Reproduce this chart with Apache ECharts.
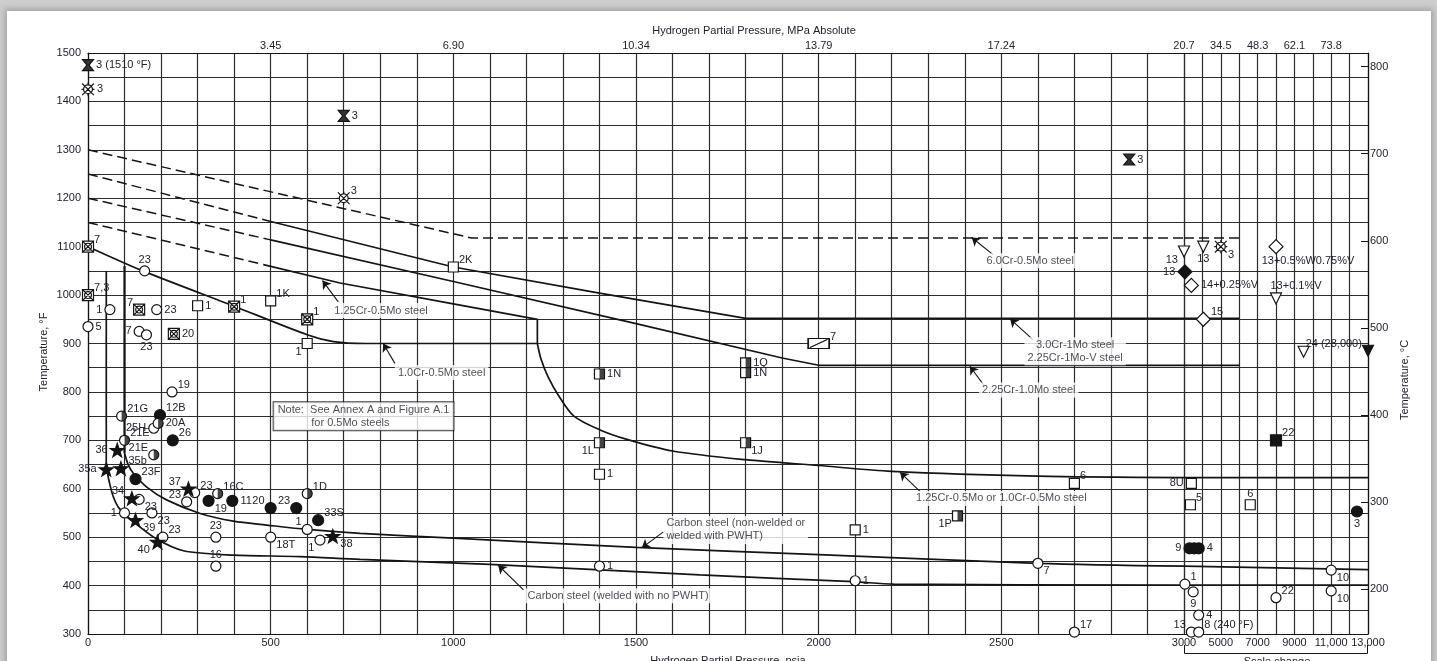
<!DOCTYPE html>
<html>
<head>
<meta charset="utf-8">
<title>Operating limits for steels in hydrogen service</title>
<script src="https://cdn.jsdelivr.net/npm/echarts@6/dist/echarts.min.js"></script>
<style>
  html, body { margin: 0; padding: 0; width: 1437px; height: 661px; overflow: hidden; background: #cdcdcd; }
  #sheet { position: absolute; left: 7px; top: 11px; width: 1424px; height: 660px; background: #fff;
           box-shadow: 0 0 6px 2px rgba(0, 0, 0, 0.22); }
  #chart { position: absolute; left: 0; top: 0; width: 1437px; height: 661px; }
</style>
</head>
<body>
<div id="sheet"></div>
<div id="chart"></div>
<script>
// ---------- axis ticks and labels ----------
const psiaLowLabels = [0, 500, 1000, 1500, 2000, 2500];
const psiaHighLabels = [3000, 5000, 7000, 9000, 11000, 13000];
const psiaHighText = ['3000', '5000', '7000', '9000', '11,000', '13,000'];
const mpaTickPsia = [500, 1000, 1500, 2000, 2500, 3000, 5000, 7000, 9000, 11000];
const mpaTickText = ['3.45', '6.90', '10.34', '13.79', '17.24', '20.7', '34.5', '48.3', '62.1', '73.8'];
const degFLabels = [300, 400, 500, 600, 700, 800, 900, 1000, 1100, 1200, 1300, 1400, 1500];
const degCLabels = [200, 300, 400, 500, 600, 700, 800];
const omittedGridF = [1100];

// ---------- limit curves: [psia, degF] ----------
const cr6Mo05 = [[0, 1300], [1050, 1118], [3000, 1118], [6000, 1118]];
const cr3Mo1Dashed = [[0, 1250], [500, 1152]];
const cr3Mo1 = [[500, 1152], [1000, 1058], [1400, 1004], [1800, 952], [3000, 952], [6000, 952]];
const cr225Mo1Dashed = [[0, 1200], [500, 1114]];
const cr225Mo1 = [[500, 1114], [1000, 1028], [1500, 941], [1900, 870], [2000, 855], [3000, 855], [6000, 855]];
const cr125Mo05Dashed = [[0, 1150], [480, 1063]];
const cr125Mo05 = [[480, 1063], [690, 1025], [1000, 982], [1230, 950], [1230, 900]];
const cr1Mo05 = [[0, 1100], [150, 1050], [400, 977], [600, 918], [672, 904], [760, 900], [1230, 900]];
const crMoShared = [[1230, 900], [1240, 868], [1260, 830], [1290, 790], [1330, 750], [1400, 722], [1475, 702],
                    [1600, 678], [1800, 660], [2000, 648], [2200, 636], [2600, 626], [3000, 623], [13000, 623]];
const csPwhtRise = [[100, 1060], [100, 674]];
const csPwht = [[100, 674], [110, 650], [124, 632], [160, 604], [215, 577], [307, 549], [398, 533], [489, 525],
                [600, 516], [745, 508], [1000, 498], [1500, 479], [2000, 464], [2600, 446], [3000, 440], [13000, 433]];
const csNoPwhtRise = [[50, 1050], [50, 646]];
const csNoPwht = [[50, 646], [58, 615], [69, 584], [85, 560], [124, 532], [188, 496], [261, 472], [398, 463],
                  [580, 460], [745, 454], [1100, 444], [1675, 422], [2095, 408], [2205, 403], [3000, 401], [13000, 401]];

// ---------- experience points: [psia, degF, note] ----------
const openCircles = [
  [0, 935, '5'], [60, 970, '1'], [188, 970, '23'], [155, 1050, '23'], [140, 925, '7'], [160, 918, '23'],
  [230, 800, '19'], [180, 725, '25H'], [292, 592, '23'], [270, 573, '23'], [140, 578, '23'], [100, 550, '1'],
  [175, 550, '23'], [205, 500, '23'], [350, 500, '23'], [350, 440, '16'], [500, 500, '18T'], [600, 516, '1'],
  [635, 494, '1'], [1400, 440, '1'], [2100, 410, '1'], [2600, 446, '7'], [2700, 301, '17'], [3050, 403, '1'],
  [3500, 387, '9'], [3800, 339, '4'], [3400, 303, '13'], [3800, 240, '8 (240 °F)'], [8000, 375, '22'],
  [11000, 432, '10'], [11000, 389, '10']
];
const filledCircles = [
  [232, 700, '26'], [130, 620, '23F'], [330, 575, '19'], [395, 575, '11'], [500, 560, '20'], [570, 560, '23'],
  [630, 535, '33S'], [197, 752, '12B'], [12400, 553, '3'], [3300, 477, '9'], [3550, 477, ''], [3800, 477, '4']
];
const halfCircles = [
  [92, 750, '21G'], [100, 700, '21E'], [180, 670, '21E'], [192, 735, '20A'], [355, 590, '16C'], [600, 590, '1D']
];
const stars = [
  [80, 680, '36'], [90, 642, '35b'], [50, 640, '35a'], [275, 600, '37'], [120, 580, '34'], [130, 535, '39'],
  [190, 490, '40'], [670, 502, '38']
];
const openSquares = [
  [300, 978, '1'], [500, 988, '1K'], [600, 900, '1'], [1000, 1058, '2K'], [1400, 630, '1'], [2100, 515, '1'],
  [2700, 611, '6'], [3400, 611, '8U'], [3350, 567, '5'], [6600, 567, '6']
];
const halfSquares = [
  [1400, 837, '1N'], [1400, 695, '1L'], [1800, 860, '1Q'], [1800, 840, '1N'], [1800, 695, '1J'], [2380, 544, '1P']
];
const filledSquares = [[8000, 700, '22']];
const slashedRects = [[2000, 900, '7']];
const crossedSquares = [
  [0, 1100, '7'], [0, 1000, '7,3'], [140, 970, '7'], [400, 976, '1'], [600, 950, '1'], [235, 920, '20']
];
const wheels = [[0, 1425, '3'], [700, 1200, '3'], [5000, 1100, '3']];
const hourglasses = [[0, 1510, '3 (1510 °F)'], [700, 1370, '3'], [2850, 1280, '3']];
const openTriangles = [[3000, 1090, '13'], [4050, 1100, '13'], [8000, 993, '13+0.1%V'], [9500, 883, '']];
const filledTriangles = [[28000, 885, '24 (28,000)']];
const openDiamonds = [[3400, 1020, '14+0.25%V'], [8000, 1100, '13+0.5%W0.75%V'], [4050, 950, '15']];
const filledDiamonds = [[3050, 1048, '13']];

// ---------- label placement for each point (parallel to the lists above) ----------
const openCircleTags = ['r', 'l', 'r', 't', 'l', 'b', 'tr', 'l', 'tr', 'tl', 'br', 'l', 'br', 'tr', 't', 't', 'br',
  'tl', 'bl', 'r', 'r', 'br', 'tr', 'tr', 'b', 'r', 'tl', 'tr', 'tr', 'br', 'br'];
const filledCircleTags = ['tr', 'tr', 'br', 'r', 'tl', 'tl', 'tr', 'tr', 'b', 'l', 'r', 'r'];
const halfCircleTags = ['tr', 'tr', 'tl', 'r', 'tr', 'tr'];
const starTags = ['l', 'tr', 'l', 'tl', 'tl', 'br', 'bl', 'br'];
const openSquareTags = ['r', 'tr', 'bl', 'tr', 'r', 'r', 'tr', 'l', 'tr', 't'];
const halfSquareTags = ['r', 'bl', 'r', 'r', 'br', 'bl'];
const filledSquareTags = ['tr'];
const slashedRectTags = ['tr'];
const crossedSquareTags = ['tr', 'tr', 'tl', 'tr', 'tr', 'r'];
const wheelTags = ['r', 'tr', 'br'];
const hourglassTags = ['r', 'r', 'r'];
const openTriangleTags = ['bl', 'b', 'tw', 'r'];
const filledTriangleTags = ['tl'];
const openDiamondTags = ['r', 'bw', 'tr'];
const filledDiamondTags = ['l'];

// ---------- curve call-outs ----------
const curveNotes = [
  { text: '6.0Cr-0.5Mo steel', at: [2579, 1071], tail: [2478, 1083], tip: [2419, 1119] },
  { text: '1.25Cr-0.5Mo steel', at: [802, 968], tail: [685, 986], tip: [642, 1030] },
  { text: '1.0Cr-0.5Mo steel', at: [968, 840], tail: [840, 859], tip: [808, 900] },
  { text: '3.0Cr-1Mo steel\n2.25Cr-1Mo-V steel', at: [2702, 884], tail: [2588, 907], tip: [2524, 951] },
  { text: '2.25Cr-1.0Mo steel', at: [2575, 804], tail: [2455, 811], tip: [2414, 853] },
  { text: '1.25Cr-0.5Mo or 1.0Cr-0.5Mo steel', at: [2500, 580], tail: [2278, 594], tip: [2223, 634] },
  { text: 'Carbon steel (non-welded or\nwelded with PWHT)', at: [1575, 515], tail: [1575, 511], tip: [1516, 478], left: true },
  { text: 'Carbon steel (welded with no PWHT)', at: [1451, 379], tail: [1192, 391], tip: [1123, 442] }
];
const noteBox = { text: 'Note:  See Annex A and Figure A.1\n           for 0.5Mo steels', at: [749, 750] };

// ---------- drawing ----------
const SPLIT_PSIA = 3000, MAX_PSIA = 13000, MIN_F = 300, MAX_F = 1500;
const PIN_LOW_F = 304, PIN_HIGH_F = 1475;
const FONT = '"Liberation Sans", Arial, Helvetica, sans-serif';
const FS = 11;
const INK = '#141414';
const GRID_INK = '#2c2c2c';
const TEXT_INK = '#22222c';
const toC = f => (f - 32) / 1.8;

const PLACE = {
  r: { position: 'right', offset: [0, 0] },
  l: { position: 'left', offset: [0, 0] },
  t: { position: 'top', offset: [0, 2] },
  b: { position: 'bottom', offset: [0, -1] },
  tr: { position: 'right', offset: [-2, -7] },
  br: { position: 'right', offset: [-2, 8] },
  tl: { position: 'left', offset: [2, -7] },
  bl: { position: 'left', offset: [2, 8] },
  tw: { position: 'top', offset: [20, 1] },
  bw: { position: 'bottom', offset: [32, -1] }
};

const SYM = {
  star: 'path://M0,-10L2.35,-3.24L9.51,-3.09L3.8,1.24L5.88,8.09L0,4L-5.88,8.09L-3.8,1.24L-9.51,-3.09L-2.35,-3.24Z',
  crossedSquare: 'path://M-1,-1L1,-1L1,1L-1,1Z M-1,-1L1,1 M1,-1L-1,1 M0.62,0A0.62,0.62 0 1,1 -0.62,0A0.62,0.62 0 1,1 0.62,0Z',
  wheel: 'path://M0.68,0A0.68,0.68 0 1,1 -0.68,0A0.68,0.68 0 1,1 0.68,0Z M-0.9,-0.9L0.9,0.9 M0.9,-0.9L-0.9,0.9 M0,-1L0,-0.68 M0,1L0,0.68 M-1,0L-0.68,0 M1,0L0.68,0',
  hourglass: 'path://M-1,-1L1,-1L0.18,0L1,1L-1,1L-0.18,0Z',
  slashedRect: 'path://M-1.3,-0.55L1.3,-0.55L1.3,0.55L-1.3,0.55Z M-1.1,0.45L1.1,-0.45',
  halfDisc: 'path://M0,-1A1,1 0 0,1 0,1Z'
};

function pinned(d) {
  return [Math.min(d[0], MAX_PSIA), Math.min(Math.max(d[1], PIN_LOW_F), PIN_HIGH_F)];
}

function markSeries(pts, tags, look) {
  const out = [];
  [0, 1].forEach(g => {
    const idx = pts.map((d, i) => i).filter(i => (pts[i][0] > SPLIT_PSIA ? 1 : 0) === g);
    if (!idx.length) return;
    out.push({
      type: 'scatter', xAxisIndex: g, yAxisIndex: g, clip: false, z: 6, silent: true,
      emphasis: { disabled: true },
      symbol: look.symbol, symbolSize: look.size, symbolRotate: look.rotate || 0,
      symbolKeepAspect: look.keepAspect !== false,
      itemStyle: { color: look.fill, borderColor: INK, borderWidth: look.border == null ? 1.2 : look.border, opacity: 1 },
      label: { show: true, fontFamily: FONT, fontSize: FS, color: TEXT_INK, distance: 2, formatter: p => p.name },
      data: idx.map(i => {
        const pl = PLACE[tags[i]] || PLACE.r;
        return { value: pinned(pts[i]), name: pts[i][2],
                 label: { show: pts[i][2] !== '', position: pl.position, offset: pl.offset } };
      })
    });
    if (look.half) {
      out.push({
        type: 'scatter', xAxisIndex: g, yAxisIndex: g, clip: false, z: 7, silent: true,
        emphasis: { disabled: true },
        symbol: look.half, symbolSize: [look.size / 2, look.size], symbolOffset: [look.size / 4, 0],
        symbolKeepAspect: false,
        itemStyle: { color: INK, borderWidth: 0 }, label: { show: false },
        data: idx.map(i => pinned(pts[i]))
      });
    }
  });
  return out;
}

function curveSeries(pts, look) {
  const out = [];
  const lo = pts.filter(d => d[0] <= SPLIT_PSIA);
  const hi = pts.filter(d => d[0] >= SPLIT_PSIA);
  [[lo, 0], [hi, 1]].forEach(([seg, g]) => {
    if (seg.length < 2) return;
    out.push({
      type: 'line', xAxisIndex: g, yAxisIndex: g, data: seg, showSymbol: false, symbol: 'none',
      smooth: look.smooth || false, z: 3, silent: true, emphasis: { disabled: true },
      lineStyle: { color: INK, width: look.width || 1.7, type: look.dash ? [10, 5] : 'solid', cap: 'butt' }
    });
  });
  return out;
}

const series = [].concat(
  curveSeries(cr6Mo05, { dash: true, width: 1.5 }),
  curveSeries(cr3Mo1Dashed, { dash: true, width: 1.5 }),
  curveSeries(cr3Mo1, {}),
  curveSeries(cr225Mo1Dashed, { dash: true, width: 1.5 }),
  curveSeries(cr225Mo1, {}),
  curveSeries(cr125Mo05Dashed, { dash: true, width: 1.5 }),
  curveSeries(cr125Mo05, {}),
  curveSeries(cr1Mo05, { smooth: 0.25 }),
  curveSeries(crMoShared, { smooth: 0.3 }),
  curveSeries(csPwhtRise, { width: 2.2 }),
  curveSeries(csPwht, { smooth: 0.3 }),
  curveSeries(csNoPwhtRise, { width: 1.7 }),
  curveSeries(csNoPwht, { smooth: 0.3 }),
  markSeries(openCircles, openCircleTags, { symbol: 'circle', size: 10, fill: '#fff' }),
  markSeries(filledCircles, filledCircleTags, { symbol: 'circle', size: 11, fill: INK }),
  markSeries(halfCircles, halfCircleTags, { symbol: 'circle', size: 10, fill: '#fff', half: SYM.halfDisc }),
  markSeries(stars, starTags, { symbol: SYM.star, size: 14, fill: INK }),
  markSeries(openSquares, openSquareTags, { symbol: 'rect', size: 10, fill: '#fff' }),
  markSeries(halfSquares, halfSquareTags, { symbol: 'rect', size: 10, fill: '#fff', half: 'rect' }),
  markSeries(filledSquares, filledSquareTags, { symbol: 'rect', size: 11, fill: INK }),
  markSeries(slashedRects, slashedRectTags, { symbol: SYM.slashedRect, size: [21, 10], fill: '#fff', keepAspect: false }),
  markSeries(crossedSquares, crossedSquareTags, { symbol: SYM.crossedSquare, size: 11, fill: '#fff' }),
  markSeries(wheels, wheelTags, { symbol: SYM.wheel, size: 13, fill: '#fff' }),
  markSeries(hourglasses, hourglassTags, { symbol: SYM.hourglass, size: 11, fill: '#333' }),
  markSeries(openTriangles, openTriangleTags, { symbol: 'triangle', size: 11, rotate: 180, fill: '#fff' }),
  markSeries(filledTriangles, filledTriangleTags, { symbol: 'triangle', size: 11, rotate: 180, fill: INK }),
  markSeries(openDiamonds, openDiamondTags, { symbol: 'diamond', size: 14, fill: '#fff' }),
  markSeries(filledDiamonds, filledDiamondTags, { symbol: 'diamond', size: 14, fill: INK })
);

// call-out arrows and their captions
series.push({
  type: 'line', xAxisIndex: 0, yAxisIndex: 0, data: [[0, MIN_F]], showSymbol: false, symbol: 'none',
  lineStyle: { width: 0 }, silent: true, z: 4,
  markLine: {
    silent: true, animation: false, symbol: ['none', 'arrow'], symbolSize: 8, precision: 2,
    lineStyle: { color: INK, width: 1.1, type: 'solid' }, label: { show: false }, emphasis: { disabled: true },
    data: curveNotes.map(n => [{ coord: n.tail }, { coord: n.tip }])
  }
});
series.push({
  type: 'scatter', xAxisIndex: 0, yAxisIndex: 0, symbolSize: 1, silent: true, z: 5, clip: false,
  itemStyle: { color: 'rgba(0,0,0,0)' }, emphasis: { disabled: true },
  label: { show: true, position: 'inside', fontFamily: FONT, fontSize: FS, lineHeight: 13, color: TEXT_INK,
           backgroundColor: '#fff', padding: [1, 3], formatter: p => p.name },
  data: curveNotes.map(n => ({ value: n.at, name: n.text, label: n.left ? { align: 'left' } : {} }))
    .concat([{ value: noteBox.at, name: noteBox.text,
               label: { align: 'left', borderColor: INK, borderWidth: 1, padding: [1, 4], offset: [-88, 0] } }])
});

const hGridColors = [];
for (let f = MIN_F; f <= MAX_F; f += 50) hGridColors.push(omittedGridF.includes(f) ? 'rgba(0,0,0,0)' : GRID_INK);

const labelStyle = { fontFamily: FONT, fontSize: FS, color: TEXT_INK };
const frameLine = { show: true, lineStyle: { color: INK, width: 1.2 } };
const gridLine = { show: true, lineStyle: { color: GRID_INK, width: 1.2 } };

const option = {
  animation: false,
  backgroundColor: 'transparent',
  grid: [
    { left: 88, top: 53, width: 1096, height: 581 },
    { left: 1184, top: 53, width: 184, height: 581 }
  ],
  xAxis: [
    { gridIndex: 0, type: 'value', position: 'bottom', min: 0, max: SPLIT_PSIA, interval: 100,
      axisLine: frameLine, axisTick: { show: false },
      axisLabel: Object.assign({ margin: 3, customValues: psiaLowLabels,
        formatter: v => (psiaLowLabels.includes(v) ? String(v) : '') }, labelStyle),
      splitLine: gridLine },
    { gridIndex: 1, type: 'value', position: 'bottom', min: SPLIT_PSIA, max: MAX_PSIA, interval: 1000,
      axisLine: frameLine, axisTick: { show: false },
      axisLabel: Object.assign({ margin: 3, customValues: psiaHighLabels, showMinLabel: true, showMaxLabel: true,
        formatter: v => { const i = psiaHighLabels.indexOf(v); return i < 0 ? '' : psiaHighText[i]; } }, labelStyle),
      splitLine: gridLine },
    { gridIndex: 0, type: 'value', position: 'top', min: 0, max: SPLIT_PSIA, interval: 100,
      axisLine: frameLine, axisTick: { show: false }, splitLine: { show: false },
      axisLabel: Object.assign({ margin: 2, customValues: mpaTickPsia.filter(v => v < SPLIT_PSIA),
        formatter: v => { const i = mpaTickPsia.indexOf(v); return i < 0 ? '' : mpaTickText[i]; } }, labelStyle) },
    { gridIndex: 1, type: 'value', position: 'top', min: SPLIT_PSIA, max: MAX_PSIA, interval: 1000,
      axisLine: frameLine, axisTick: { show: false }, splitLine: { show: false },
      axisLabel: Object.assign({ margin: 2, customValues: mpaTickPsia.filter(v => v >= SPLIT_PSIA),
        showMinLabel: true, showMaxLabel: true,
        formatter: v => { const i = mpaTickPsia.indexOf(v); return i < 0 ? '' : mpaTickText[i]; } }, labelStyle) }
  ],
  yAxis: [
    { gridIndex: 0, type: 'value', min: MIN_F, max: MAX_F, interval: 50,
      axisLine: frameLine, axisTick: { show: false },
      axisLabel: Object.assign({ margin: 7, customValues: degFLabels, showMinLabel: true, showMaxLabel: true,
        formatter: v => (degFLabels.includes(v) ? String(v) : '') }, labelStyle),
      splitLine: { show: true, lineStyle: { color: hGridColors, width: 1.2 } } },
    { gridIndex: 1, type: 'value', min: MIN_F, max: MAX_F, interval: 50,
      axisLine: { show: false }, axisTick: { show: false }, axisLabel: { show: false },
      splitLine: { show: true, lineStyle: { color: hGridColors, width: 1.2 } } },
    { gridIndex: 1, type: 'value', position: 'right', min: toC(MIN_F), max: toC(MAX_F),
      axisLine: frameLine, splitLine: { show: false },
      axisTick: { show: true, inside: true, length: 7, customValues: degCLabels, lineStyle: { color: INK } },
      axisLabel: Object.assign({ margin: 2, customValues: degCLabels,
        formatter: v => (degCLabels.includes(Math.round(v)) ? String(Math.round(v)) : '') }, labelStyle) }
  ],
  graphic: [
    { type: 'text', silent: true, z: 10,
      style: { x: 754, y: 31, text: 'Hydrogen Partial Pressure, MPa Absolute', align: 'center', verticalAlign: 'middle',
               font: FS + 'px ' + FONT, fill: TEXT_INK } },
    { type: 'text', silent: true, z: 10,
      style: { x: 728, y: 661, text: 'Hydrogen Partial Pressure, psia', align: 'center', verticalAlign: 'middle',
               font: FS + 'px ' + FONT, fill: TEXT_INK } },
    { type: 'text', silent: true, z: 10, x: 44, y: 352, rotation: Math.PI / 2,
      style: { x: 0, y: 0, text: 'Temperature, °F', align: 'center', verticalAlign: 'middle',
               font: FS + 'px ' + FONT, fill: TEXT_INK } },
    { type: 'text', silent: true, z: 10, x: 1405, y: 380, rotation: Math.PI / 2,
      style: { x: 0, y: 0, text: 'Temperature, °C', align: 'center', verticalAlign: 'middle',
               font: FS + 'px ' + FONT, fill: TEXT_INK } },
    { type: 'polyline', silent: true, z: 10,
      shape: { points: [[1184.5, 645], [1184.5, 653.5], [1367.5, 653.5], [1367.5, 645]] },
      style: { stroke: INK, lineWidth: 1, fill: null } },
    { type: 'text', silent: true, z: 10,
      style: { x: 1277, y: 662, text: 'Scale change', align: 'center', verticalAlign: 'middle',
               font: FS + 'px ' + FONT, fill: TEXT_INK } }
  ],
  series: series
};

const chart = echarts.init(document.getElementById('chart'), null, { renderer: 'canvas' });
chart.setOption(option);
</script>
</body>
</html>
